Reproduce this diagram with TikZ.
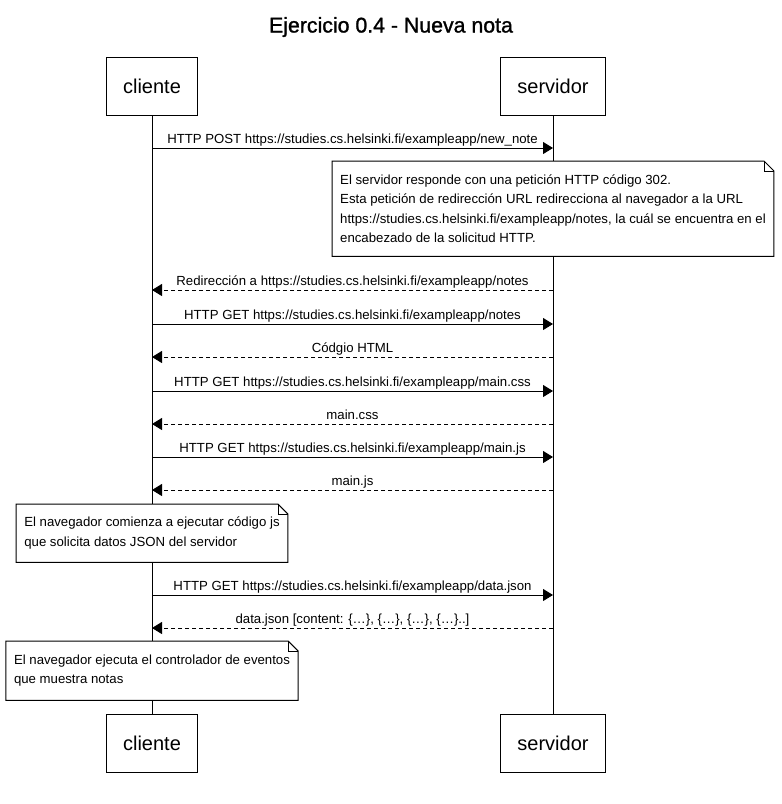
\documentclass[tikz,border=0pt]{standalone}
\usepackage{fontspec}
\setmainfont{Liberation Sans}
\newfontfamily\titlefont{Liberation Sans}[RawFeature={embolden=1.2}]
\usetikzlibrary{arrows.meta, positioning}

\tikzset{
  part/.style={draw, line width=1pt, minimum height=58pt, inner xsep=17pt, font=\fontsize{20}{24}\selectfont},
  lbl/.style={anchor=base, yshift=5pt, inner sep=0pt, font=\fontsize{13.2}{16}\selectfont},
  req/.style={line width=1pt, -{Triangle[length=10pt,width=12pt]}},
  resp/.style={req, dash pattern=on 4pt off 3pt},
  notebox/.style={anchor=north, fill=white, align=left, inner xsep=8pt, font=\fontsize{13.2}{19.5}\selectfont},
}
% outline of a note with a folded corner
\newcommand{\dognote}[1]{%
  \draw[line width=1pt] (#1.south west) -- (#1.north west) -- ([xshift=-10pt]#1.north east)
    -- ([yshift=-10pt]#1.north east) -- (#1.south east) -- cycle;
  \draw ([xshift=-10pt]#1.north east) |- ([yshift=-10pt]#1.north east);}

\begin{document}
\begin{tikzpicture}[x=1pt, y=-1pt]
    \useasboundingbox (0,0) rectangle (782,804);
    \node[font=\titlefont\fontsize{21.3}{24}\selectfont] (title) at (391,27) {Ejercicio 0.4 - Nueva nota};

    % participants
    \node[part] (cliT) at (152,86) {cliente};
    \node[part] (srvT) at (553,86) {servidor};
    \node[part] (cliB) at (152,743) {cliente};
    \node[part] (srvB) at (553,743) {servidor};
    \draw[line width=1pt] (cliT) -- (cliB);
    \draw[line width=1pt] (srvT) -- (srvB);

    % messages
    \draw[req] (cliT |- 0,148) -- node[lbl] {HTTP POST https://studies.cs.helsinki.fi/exampleapp/new\_note} (srvT |- 0,148);

    \node[notebox, minimum height=95pt] (n1) at (srvT |- 0,161)
        {El servidor responde con una petición HTTP código 302.\\
         Esta petición de redirección URL redirecciona al navegador a la URL\\
         https://studies.cs.helsinki.fi/exampleapp/notes, la cuál se encuentra en el\\
         encabezado de la solicitud HTTP.};
    \dognote{n1}

    \draw[resp] (srvT |- 0,290) -- node[lbl] {Redirección a https://studies.cs.helsinki.fi/exampleapp/notes} (cliT |- 0,290);
    \draw[req] (cliT |- 0,324) -- node[lbl] {HTTP GET https://studies.cs.helsinki.fi/exampleapp/notes} (srvT |- 0,324);
    \draw[resp] (srvT |- 0,357) -- node[lbl] {Códgio HTML} (cliT |- 0,357);
    \draw[req] (cliT |- 0,391) -- node[lbl] {HTTP GET https://studies.cs.helsinki.fi/exampleapp/main.css} (srvT |- 0,391);
    \draw[resp] (srvT |- 0,424) -- node[lbl] {main.css} (cliT |- 0,424);
    \draw[req] (cliT |- 0,457) -- node[lbl] {HTTP GET https://studies.cs.helsinki.fi/exampleapp/main.js} (srvT |- 0,457);
    \draw[resp] (srvT |- 0,490) -- node[lbl] {main.js} (cliT |- 0,490);

    \node[notebox, minimum height=58pt] (n2) at (cliT |- 0,504)
        {El navegador comienza a ejecutar código js\\
         que solicita datos JSON del servidor};
    \dognote{n2}

    \draw[req] (cliT |- 0,595) -- node[lbl] {HTTP GET https://studies.cs.helsinki.fi/exampleapp/data.json} (srvT |- 0,595);
    \draw[resp] (srvT |- 0,628) -- node[lbl] {data.json [content: \{…\}, \{…\}, \{…\}, \{…\}..]} (cliT |- 0,628);

    \node[notebox, minimum height=59pt] (n3) at (cliT |- 0,641)
        {El navegador ejecuta el controlador de eventos\\
         que muestra notas};
    \dognote{n3}
\end{tikzpicture}
\end{document}
